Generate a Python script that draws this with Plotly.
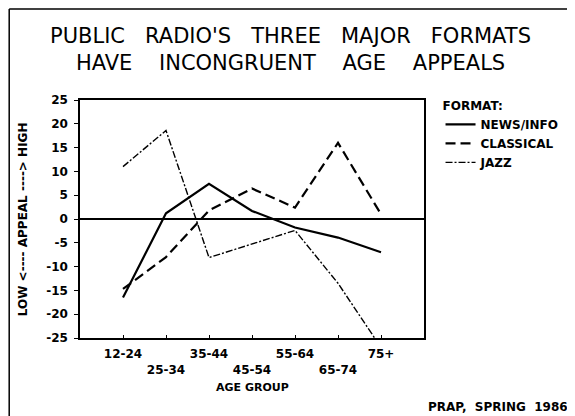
import plotly.graph_objects as go

age_groups = ["12-24", "25-34", "35-44", "45-54", "55-64", "65-74", "75+"]
news_info = [-16.5, 1.2, 7.4, 1.7, -1.8, -3.9, -7.0]
classical = [-14.7, -8.0, 1.8, 6.4, 2.4, 16.0, 1.0]
jazz = [11.0, 18.6, -8.1, -5.3, -2.4, -13.5, -27.0]
y_ticks = [25, 20, 15, 10, 5, 0, -5, -10, -15, -20, -25]

x_idx = list(range(len(age_groups)))
tick_text = [g if i % 2 == 0 else "<br>" + g for i, g in enumerate(age_groups)]

FONT = "DejaVu Sans"
fig = go.Figure()
fig.add_trace(go.Scatter(x=x_idx, y=news_info, mode="lines", name="NEWS/INFO",
                         line=dict(color="black", width=2.2)))
fig.add_trace(go.Scatter(x=x_idx, y=classical, mode="lines", name="CLASSICAL",
                         line=dict(color="black", width=2.2, dash="10px,5px")))
fig.add_trace(go.Scatter(x=x_idx, y=jazz, mode="lines", name="JAZZ",
                         line=dict(color="black", width=1.4, dash="7px,2px,2px,2px")))

# the page body has an 8px margin, so the figure is 8px smaller than the window
fig.update_layout(
    width=567, height=408,
    margin=dict(l=72, r=150, t=92, b=78),
    paper_bgcolor="white", plot_bgcolor="white",
    font=dict(family=FONT, color="black", size=11),
    title=dict(text="PUBLIC   RADIO'S   THREE   MAJOR   FORMATS<br>HAVE    INCONGRUENT    AGE    APPEALS",
               x=0.612, xanchor="center", xref="paper", y=0.915, yanchor="top",
               font=dict(family=FONT, size=21, color="black")),
    showlegend=True,
    legend=dict(x=1.045, y=1.024, xanchor="left", yanchor="top",
                title=dict(text="FORMAT:", font=dict(size=12, weight="bold")),
                font=dict(size=12, weight="bold"), bgcolor="rgba(0,0,0,0)",
                itemwidth=30, tracegroupgap=0),
    xaxis=dict(range=[-1, 7], tickvals=x_idx, ticktext=tick_text,
               showgrid=False, zeroline=False, showline=True, linecolor="black",
               linewidth=1.5, mirror=True, ticks="inside", ticklen=3,
               tickcolor="black", ticklabelstandoff=4,
               tickfont=dict(size=12, weight="bold")),
    yaxis=dict(range=[-25, 25], tickvals=y_ticks, ticktext=[str(v) for v in y_ticks],
               showgrid=False, zeroline=True, zerolinecolor="black", zerolinewidth=2,
               showline=True, linecolor="black", linewidth=1.5, mirror=True,
               ticks="outside", ticklen=4, tickcolor="black", ticklabelstandoff=4,
               tickfont=dict(size=12, weight="bold")),
)

fig.add_annotation(text="LOW <---- APPEAL ----> HIGH", xref="paper", yref="paper",
                   x=-0.165, y=0.5, xanchor="center", yanchor="middle", textangle=-90,
                   showarrow=False, font=dict(size=12, weight="bold"))
fig.add_annotation(text="AGE GROUP", xref="paper", yref="paper", x=0.5, y=-0.206,
                   xanchor="center", yanchor="middle", showarrow=False,
                   font=dict(size=11, weight="bold"))
fig.add_annotation(text="PRAP,  SPRING  1986", xref="paper", yref="paper", x=1.425, y=-0.29,
                   xanchor="right", yanchor="middle", showarrow=False,
                   font=dict(size=12, weight="bold"))

# frame lines (top and left edges of the page box)
fig.add_shape(type="line", xref="paper", yref="paper", x0=-0.2058, x1=1.45, y0=1.382, y1=1.382,
              line=dict(color="black", width=1.5))
fig.add_shape(type="line", xref="paper", yref="paper", x0=-0.2058, x1=-0.2058, y0=1.382, y1=-0.35,
              line=dict(color="black", width=1.5))

fig.write_html("out.html")
